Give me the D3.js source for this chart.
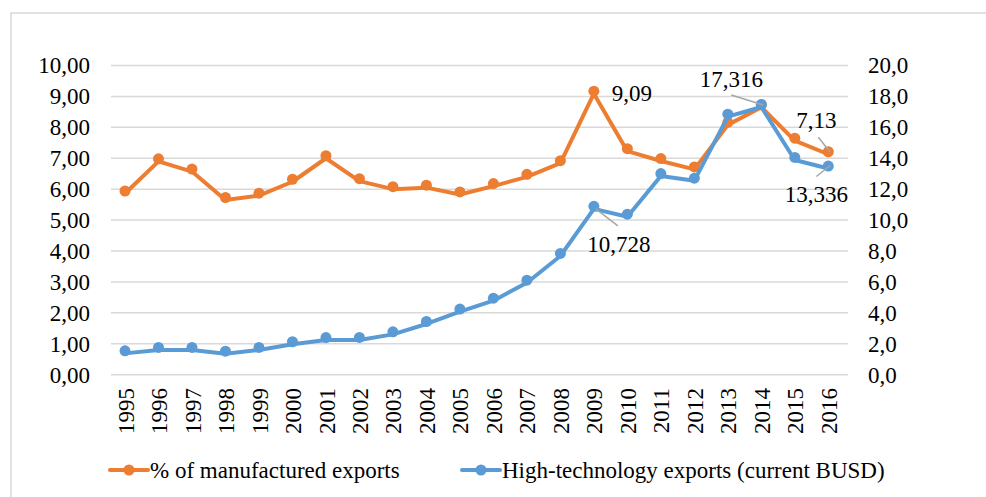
<!DOCTYPE html>
<html>
<head>
<meta charset="utf-8">
<script src="https://cdn.jsdelivr.net/npm/d3@7"></script>
<style>
	body { margin: 0; background: #fff; }
	svg { display: block; font-family: "Liberation Serif", serif; }
</style>
</head>
<body>
<div id="chart"></div>
<script>
// data
const years = [1995, 1996, 1997, 1998, 1999, 2000, 2001, 2002, 2003, 2004, 2005,
	2006, 2007, 2008, 2009, 2010, 2011, 2012, 2013, 2014, 2015, 2016];
const manufacturedPct = [5.86, 6.90, 6.57, 5.65, 5.79, 6.24, 7.00, 6.26, 6.00, 6.05, 5.83,
	6.10, 6.40, 6.84, 9.09, 7.23, 6.91, 6.64, 8.08, 8.65, 7.57, 7.13];
const hiTechBUSD = [1.38, 1.60, 1.60, 1.36, 1.60, 1.97, 2.24, 2.25, 2.61, 3.28, 4.08,
	4.79, 5.95, 7.68, 10.728, 10.22, 12.85, 12.55, 16.69, 17.316, 13.89, 13.336];
const seriesNames = ['% of manufactured exports', 'High-technology exports (current BUSD)'];
const leftTicks = [0, 1, 2, 3, 4, 5, 6, 7, 8, 9, 10];
const rightTicks = [0, 2, 4, 6, 8, 10, 12, 14, 16, 18, 20];
// data labels: series index, year, text
const labelSeries = [0, 1, 1, 0, 1];
const labelYears = [2009, 2009, 2014, 2016, 2016];
const labelTexts = ['9,09', '10,728', '17,316', '7,13', '13,336'];

// layout
const W = 986, H = 497;
const COLORS = ['#ED7D31', '#5B9BD5'];
const GRID = '#d9d9d9';
const FONT = 23;
const FONT_FAMILY = '"Liberation Serif", "Times New Roman", serif';
const PLOT = { x0: 111, x1: 848, y0: 374.7, y1: 65.5, p0: 125, p1: 828.3 };
const MARKER_R = 5.5;
const MARKER_SHIFT = -2.5;
// label placement relative to its point: text centre dx, baseline dy, leader from/to
const LABEL_POS = [
	{ dx: 38, dy: 7, lead: null },
	{ dx: 25, dy: 43, lead: [[2, 0], [24, 17]] },
	{ dx: -30, dy: -20, lead: [[-30, -12], [2, -2]] },
	{ dx: -12, dy: -26, lead: [[-10, -17], [2, -2]] },
	{ dx: -12, dy: 33, lead: [[-12, 8], [2, -3]] }
];

const svg = d3.select('#chart').append('svg')
	.attr('width', W)
	.attr('height', H);

// frame (runs off the picture on right and bottom)
svg.append('rect')
	.attr('x', 11).attr('y', 13)
	.attr('width', W).attr('height', H)
	.attr('fill', 'none')
	.attr('stroke', GRID)
	.attr('stroke-width', 1.5);

const x = d3.scalePoint().domain(years).range([PLOT.p0, PLOT.p1]);
const yL = d3.scaleLinear().domain([0, 10]).range([PLOT.y0, PLOT.y1]);
const yR = d3.scaleLinear().domain([0, 20]).range([PLOT.y0, PLOT.y1]);
const scales = [yL, yR];
const fmtL = v => d3.format('.2f')(v).replace('.', ',');
const fmtR = v => d3.format('.1f')(v).replace('.', ',');

// gridlines
svg.append('g').selectAll('line')
	.data(leftTicks)
	.join('line')
	.attr('x1', PLOT.x0).attr('x2', PLOT.x1)
	.attr('y1', d => yL(d)).attr('y2', d => yL(d))
	.attr('stroke', GRID)
	.attr('stroke-width', 1.5);

// left axis
const gL = svg.append('g')
	.attr('transform', 'translate(90,0)')
	.call(d3.axisLeft(yL).tickValues(leftTicks).tickFormat(fmtL).tickSize(0).tickPadding(0));
// right axis
const gR = svg.append('g')
	.attr('transform', 'translate(868,0)')
	.call(d3.axisRight(yR).tickValues(rightTicks).tickFormat(fmtR).tickSize(0).tickPadding(0));
// x axis
const gX = svg.append('g')
	.attr('transform', 'translate(0,388)')
	.call(d3.axisBottom(x).tickSize(0).tickPadding(0));
gX.selectAll('text')
	.attr('transform', 'rotate(-90)')
	.attr('text-anchor', 'end')
	.attr('x', 0)
	.attr('y', 0)
	.attr('dy', '0.35em');

[gL, gR, gX].forEach(g => {
	g.attr('font-family', FONT_FAMILY).attr('font-size', FONT);
	g.select('.domain').remove();
	g.selectAll('text')
		.attr('font-size', FONT)
		.attr('fill', '#000');
});

// series
const seriesData = [manufacturedPct, hiTechBUSD];
seriesData.forEach((vals, i) => {
	const pts = years.map((yr, j) => ({ yr, v: vals[j] }));
	const line = d3.line().x(d => x(d.yr)).y(d => scales[i](d.v));
	svg.append('path')
		.datum(pts)
		.attr('d', line)
		.attr('fill', 'none')
		.attr('stroke', COLORS[i])
		.attr('stroke-width', 4)
		.attr('stroke-linejoin', 'round')
		.attr('stroke-linecap', 'round');
	svg.append('g')
		.attr('transform', `translate(0,${MARKER_SHIFT})`)
		.selectAll('circle')
		.data(pts)
		.join('circle')
		.attr('cx', d => x(d.yr))
		.attr('cy', d => scales[i](d.v))
		.attr('r', MARKER_R)
		.attr('fill', COLORS[i]);
});

// data labels
const gLab = svg.append('g').attr('font-family', FONT_FAMILY);
labelTexts.forEach((t, k) => {
	const s = labelSeries[k];
	const yr = labelYears[k];
	const px = x(yr);
	const py = scales[s](seriesData[s][years.indexOf(yr)]);
	const pos = LABEL_POS[k];
	if (pos.lead) {
		gLab.append('line')
			.attr('x1', px + pos.lead[0][0]).attr('y1', py + pos.lead[0][1])
			.attr('x2', px + pos.lead[1][0]).attr('y2', py + pos.lead[1][1])
			.attr('stroke', '#a6a6a6')
			.attr('stroke-width', 1.5);
	}
	gLab.append('text')
		.attr('x', px + pos.dx)
		.attr('y', py + pos.dy)
		.attr('text-anchor', 'middle')
		.attr('font-size', FONT)
		.text(t);
});

// legend
const legendX = [110, 462];
const gLeg = svg.append('g')
	.attr('transform', 'translate(0,470)')
	.attr('font-family', FONT_FAMILY);
seriesNames.forEach((name, i) => {
	const g = gLeg.append('g').attr('transform', `translate(${legendX[i]},0)`);
	g.append('line')
		.attr('x1', 0).attr('x2', 38)
		.attr('stroke', COLORS[i])
		.attr('stroke-width', 4)
		.attr('stroke-linecap', 'round');
	g.append('circle')
		.attr('cx', 19).attr('cy', 0)
		.attr('r', MARKER_R)
		.attr('fill', COLORS[i]);
	g.append('text')
		.attr('x', 40)
		.attr('dy', '0.33em')
		.attr('font-size', FONT)
		.text(name);
});
</script>
</body>
</html>
